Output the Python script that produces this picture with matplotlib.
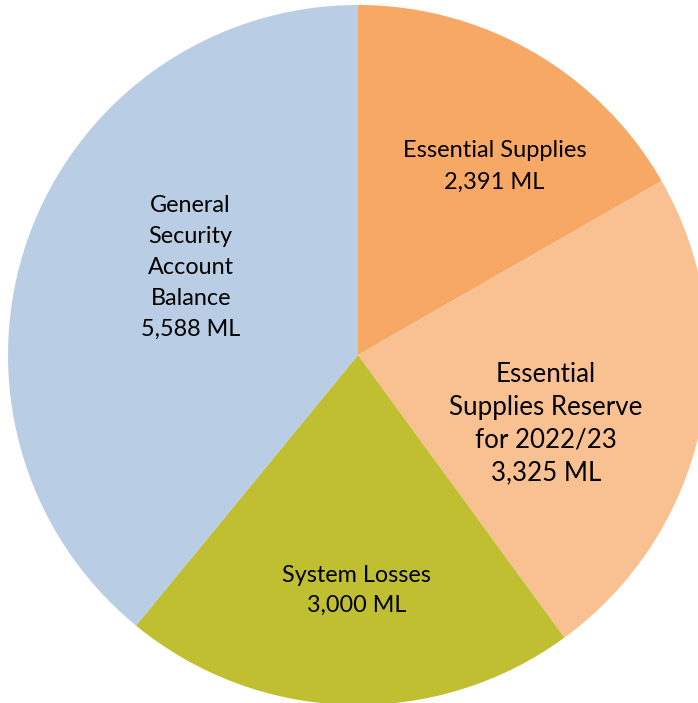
import matplotlib.pyplot as plt
import numpy as np

plt.rcParams['font.family'] = ['Lato', 'DejaVu Sans']

# Data
labels = ['Essential Supplies', 'Essential\nSupplies Reserve\nfor 2022/23',
          'System Losses', 'General\nSecurity\nAccount\nBalance']
values = [2391, 3325, 3000, 5588]
colors = ['#F7A864', '#F9C191', '#C0BF32', '#B9CDE4']

# label placement (radius fraction, angle offset from wedge middle, font size, line spacing)
label_r = [0.665, 0.572, 0.672, 0.54]
label_shift = [-5.8, -8, 1.3, -8]
label_size = [17, 18.6, 16.8, 16.8]
label_ls = [1.6, 1.4, 1.55, 1.58]

fig = plt.figure(figsize=(6.98, 7.03), dpi=100)
ax = fig.add_axes([8 / 698, -2 / 703, 700 / 698, 700 / 703])

wedges, _ = ax.pie(values, colors=colors, startangle=90, counterclock=False,
                   radius=1, wedgeprops=dict(linewidth=0))

for w, lab, v, r, sh, fs, ls in zip(wedges, labels, values, label_r,
                                    label_shift, label_size, label_ls):
    mid = np.deg2rad((w.theta1 + w.theta2) / 2 + sh)
    ax.text(r * np.cos(mid), r * np.sin(mid), f'{lab}\n{v:,} ML',
            ha='center', va='center', fontsize=fs, linespacing=ls,
            color='black')

ax.set_xlim(-1, 1)
ax.set_ylim(-1, 1)
ax.set_aspect('equal')
ax.axis('off')
fig.savefig('out.png', dpi=100)
